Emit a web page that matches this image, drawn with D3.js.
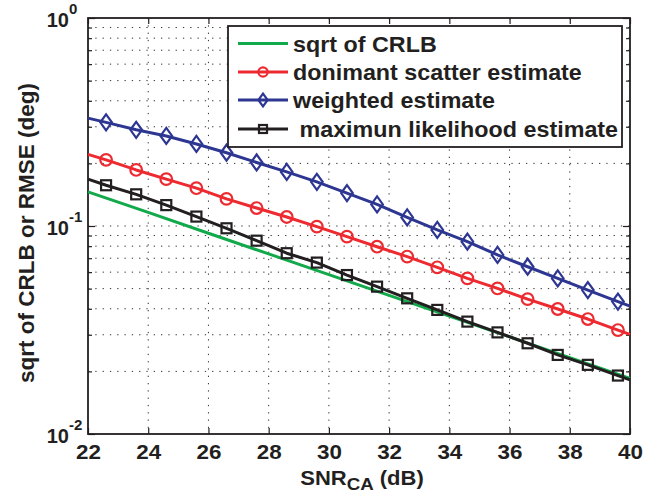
<!DOCTYPE html>
<html>
<head>
<meta charset="utf-8">
<script src="https://cdn.jsdelivr.net/npm/d3@7"></script>
<style>
  body { margin: 0; background: #fff; }
  text { font-family: "Liberation Sans", Arial, Helvetica, sans-serif; font-weight: bold; fill: #231f20; }
</style>
</head>
<body>
<div id="chart"></div>
<script>
// x positions (dB)
var snrMarked = [22.6, 23.6, 24.6, 25.6, 26.6, 27.6, 28.6, 29.6, 30.6, 31.6, 32.6, 33.6, 34.6, 35.6, 36.6, 37.6, 38.6, 39.6];
var snrCurve  = [22].concat(snrMarked, [40]);
var snrCrlb   = [22, 24, 26, 28, 30, 32, 34, 36, 38, 40];

// values
var crlb      = [0.146, 0.1163, 0.0923, 0.0734, 0.0584, 0.0464, 0.0369, 0.0293, 0.0233, 0.0185];
var dominant  = [0.221, 0.208, 0.186, 0.168, 0.152, 0.135, 0.122, 0.1105, 0.0993, 0.0889, 0.0795,
                 0.0713, 0.0633, 0.0560, 0.0501, 0.0445, 0.0399, 0.0357, 0.0316, 0.0301];
var weighted  = [0.330, 0.315, 0.290, 0.271, 0.248, 0.225, 0.202, 0.182, 0.163, 0.144, 0.127,
                 0.110, 0.0957, 0.0841, 0.0726, 0.0637, 0.0560, 0.0492, 0.0433, 0.0412];
var maxLike   = [0.168, 0.157, 0.142, 0.126, 0.111, 0.0975, 0.0850, 0.0740, 0.0667, 0.0581, 0.0511,
                 0.0449, 0.0395, 0.0347, 0.0308, 0.0273, 0.0240, 0.0215, 0.0191, 0.0182];

var xTicks = [22, 24, 26, 28, 30, 32, 34, 36, 38, 40];
var yDecades = [1e-2, 1e-1, 1];
var yDecadeExp = ["-2", "-1", "0"];
var legendLabels = ["sqrt of CRLB", "donimant scatter estimate", "weighted estimate", " maximun likelihood estimate"];

var W = 667, H = 500;
var L = 88, R = 630, T = 18, B = 434;
var ink = "#231f20";

var svg = d3.select("#chart").append("svg").attr("width", W).attr("height", H);

var x = d3.scaleLinear().domain([22, 40]).range([L, R]);
var y = d3.scaleLog().domain([0.01, 1]).range([B, T]);

// minor log values
var minors = [];
[0.01, 0.1].forEach(function (d) {
  for (var k = 2; k <= 9; k++) minors.push(d * k);
});
var gridY = minors.concat([0.1]);

// grid
var grid = svg.append("g").attr("stroke", "#333").attr("stroke-width", 1).attr("stroke-dasharray", "1.3,6");
grid.selectAll("line.gx").data(xTicks.slice(1, -1)).enter().append("line")
  .attr("x1", function (d) { return x(d); }).attr("x2", function (d) { return x(d); })
  .attr("y1", T).attr("y2", B);
grid.selectAll("line.gy").data(gridY).enter().append("line")
  .attr("x1", L).attr("x2", R)
  .attr("y1", function (d) { return y(d); }).attr("y2", function (d) { return y(d); });

// axes with inward ticks (MATLAB box style)
var xb = svg.append("g").attr("transform", "translate(0," + B + ")")
  .call(d3.axisBottom(x).tickValues(xTicks).tickSizeInner(-6).tickSizeOuter(0).tickPadding(10).tickFormat(d3.format("d")));
var xt = svg.append("g").attr("transform", "translate(0," + T + ")")
  .call(d3.axisTop(x).tickValues(xTicks).tickSizeInner(-6).tickSizeOuter(0).tickFormat(""));
var yl = svg.append("g").attr("transform", "translate(" + L + ",0)")
  .call(d3.axisLeft(y).tickValues(minors.concat(yDecades)).tickSizeInner(-4).tickSizeOuter(0).tickFormat(""));
var yr = svg.append("g").attr("transform", "translate(" + R + ",0)")
  .call(d3.axisRight(y).tickValues(minors.concat(yDecades)).tickSizeInner(-4).tickSizeOuter(0).tickFormat(""));

// longer major ticks for decades
[yl, yr].forEach(function (g, i) {
  g.selectAll(".tick").filter(function (d) { return yDecades.indexOf(d) >= 0; })
    .select("line").attr("x2", i === 0 ? 7 : -7);
});
[xb, xt, yl, yr].forEach(function (g) {
  g.select(".domain").remove();
  g.selectAll(".tick line").attr("stroke", ink).attr("stroke-width", 1.2);
});
xb.selectAll(".tick text").attr("font-size", 19.5).attr("font-family", "Liberation Sans, Arial, sans-serif")
  .attr("font-weight", "bold").attr("fill", ink).attr("dy", "0.75em").attr("transform", "scale(1.15,1)");

// box
svg.append("rect").attr("x", L).attr("y", T).attr("width", R - L).attr("height", B - T)
  .attr("fill", "none").attr("stroke", ink).attr("stroke-width", 1.8);

// y decade labels 10^n
yDecades.forEach(function (d, i) {
  svg.append("text").attr("x", 69).attr("y", y(d) + 9).attr("text-anchor", "end").attr("font-size", 20).text("10");
  svg.append("text").attr("x", 69).attr("y", y(d) - 4).attr("font-size", 15).text(yDecadeExp[i]);
});

// axis titles
svg.append("text").attr("transform", "translate(34," + 233 + ") rotate(-90)")
  .attr("text-anchor", "middle").attr("font-size", 22.5).text("sqrt of CRLB or RMSE (deg)");
var xl = svg.append("text").attr("transform", "translate(" + 362 + ",485) scale(1.1,1)")
  .attr("text-anchor", "middle").attr("font-size", 20);
xl.append("tspan").text("SNR");
xl.append("tspan").attr("font-size", 17).attr("dy", 5).text("CA");
xl.append("tspan").attr("dy", -5).text(" (dB)");

// series
var series = [
  { xs: snrCrlb,  ys: crlb,     color: "#12a94b", marker: "none" },
  { xs: snrCurve, ys: dominant, color: "#ec2a30", marker: "circle" },
  { xs: snrCurve, ys: weighted, color: "#2d3691", marker: "diamond" },
  { xs: snrCurve, ys: maxLike,  color: "#231f20", marker: "square" }
];

var line = d3.line().x(function (d) { return x(d[0]); }).y(function (d) { return y(d[1]); });

function drawMarker(g, kind, cx, cy, color, s) {
  if (kind === "circle") {
    g.append("circle").attr("cx", cx).attr("cy", cy).attr("r", 5.8 * s)
      .attr("fill", "none").attr("stroke", color).attr("stroke-width", 2.2);
  } else if (kind === "diamond") {
    var w = 5.8 * s, h = 8 * s;
    g.append("path").attr("d", "M" + cx + "," + (cy - h) + "L" + (cx + w) + "," + cy + "L" + cx + "," + (cy + h) + "L" + (cx - w) + "," + cy + "Z")
      .attr("fill", "none").attr("stroke", color).attr("stroke-width", 2.2);
  } else if (kind === "square") {
    var a = 5 * s;
    g.append("rect").attr("x", cx - a).attr("y", cy - a).attr("width", 2 * a).attr("height", 2 * a)
      .attr("fill", "none").attr("stroke", color).attr("stroke-width", 2.2);
  }
}

series.forEach(function (s) {
  var pts = s.xs.map(function (v, i) { return [v, s.ys[i]]; });
  var g = svg.append("g");
  g.append("path").datum(pts).attr("d", line).attr("fill", "none")
    .attr("stroke", s.color).attr("stroke-width", 3).attr("stroke-linejoin", "round");
  if (s.marker !== "none") {
    pts.forEach(function (p) {
      if (snrMarked.indexOf(p[0]) >= 0) drawMarker(g, s.marker, x(p[0]), y(p[1]), s.color, 1);
    });
  }
});

// legend
var lg = svg.append("g");
lg.append("rect").attr("x", 228).attr("y", 26).attr("width", 394).attr("height", 121)
  .attr("fill", "#fff").attr("stroke", ink).attr("stroke-width", 1.8);
var rowsY = [43.5, 72, 100, 129];
series.forEach(function (s, i) {
  var ry = rowsY[i];
  lg.append("line").attr("x1", 238).attr("x2", 288).attr("y1", ry).attr("y2", ry)
    .attr("stroke", s.color).attr("stroke-width", 3);
  drawMarker(lg, s.marker, 263, ry, s.color, 0.8);
  lg.append("text").attr("transform", "translate(293," + (ry + 8) + ") scale(1.06,1)").attr("font-size", 22)
    .attr("xml:space", "preserve").style("white-space", "pre").text(legendLabels[i]);
});
</script>
</body>
</html>
